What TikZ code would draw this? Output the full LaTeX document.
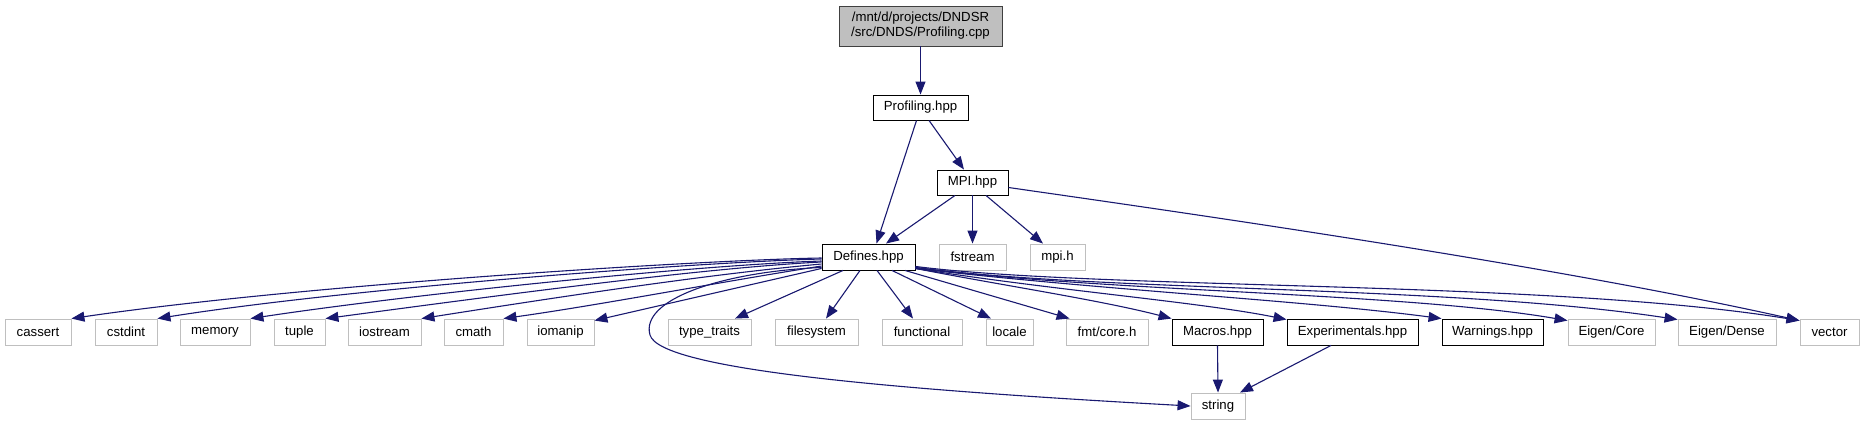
\documentclass[tikz,border=0pt]{standalone}
\usepackage{fontspec}
\setmainfont{Liberation Sans}
\usetikzlibrary{arrows.meta,calc}
\definecolor{edgeblue}{HTML}{191970}
\definecolor{lgray}{HTML}{BFBFBF}
\definecolor{dgray}{HTML}{404040}
\begin{document}
\begin{tikzpicture}[x=1pt,y=-1pt,
  box/.style={draw=black,fill=white,line width=0.9pt,inner sep=0pt,minimum height=26pt,font=\fontsize{13.2}{15}\selectfont},
  ext/.style={box,draw=lgray},
  root/.style={box,fill=lgray,draw=dgray,align=center},
  dep/.style={draw=edgeblue,line width=1.1pt,-{Triangle[length=13pt,width=10pt]}}]
\useasboundingbox (0,0) rectangle (1865,425);
% nodes
\node[root,minimum width=163pt,minimum height=40pt] (cpp) at (920.5,26) {/mnt/d/projects/DNDSR\\/src/DNDS/Profiling.cpp};
\node[box,minimum width=95pt,minimum height=25pt] (profh) at (920.5,107.5) {Profiling.hpp};
\node[box,minimum width=71pt,minimum height=25pt] (mpi) at (972.5,182.5) {MPI.hpp};
\node[box,minimum width=93pt] (defines) at (868.5,257) {Defines.hpp};
\node[ext,minimum width=67pt] (fstream) at (972.5,257) {fstream};
\node[ext,minimum width=55pt] (mpih) at (1057.5,257) {mpi.h};
\node[ext,minimum width=66pt] (cassert) at (38,332) {cassert};
\node[ext,minimum width=62pt] (cstdint) at (126,332) {cstdint};
\node[ext,minimum width=70pt] (memory) at (215,332) {memory};
\node[ext,minimum width=51pt] (tuple) at (299.5,332) {tuple};
\node[ext,minimum width=73pt] (iostream) at (384.5,332) {iostream};
\node[ext,minimum width=59pt] (cmath) at (473.5,332) {cmath};
\node[ext,minimum width=67pt] (iomanip) at (560.5,332) {iomanip};
\node[ext,minimum width=83pt] (typetraits) at (709.5,332) {type\_traits};
\node[ext,minimum width=83pt] (filesystem) at (816.5,332) {filesystem};
\node[ext,minimum width=80pt] (functional) at (922,332) {functional};
\node[ext,minimum width=47pt] (locale) at (1009.5,332) {locale};
\node[ext,minimum width=82pt] (fmtcore) at (1107,332) {fmt/core.h};
\node[box,minimum width=91pt] (macros) at (1217.5,332) {Macros.hpp};
\node[box,minimum width=131pt] (experimentals) at (1352.5,332) {Experimentals.hpp};
\node[box,minimum width=101pt] (warnings) at (1492.5,332) {Warnings.hpp};
\node[ext,minimum width=87pt] (eigencore) at (1611.5,332) {Eigen/Core};
\node[ext,minimum width=98pt] (eigendense) at (1727,332) {Eigen/Dense};
\node[ext,minimum width=59pt] (vector) at (1829.5,332) {vector};
\node[ext,minimum width=54pt] (string) at (1218,406) {string};
% top edges
\draw[dep] (cpp.south) -- (profh.north);
\draw[dep] ($(profh.south)+(-4,0)$) -- ($(defines.north)+(8,0)$);
\draw[dep] ($(profh.south)+(8.5,0)$) -- ($(mpi.north)+(-8.5,0)$);
\draw[dep] ($(mpi.south)+(-17.5,0)$) -- ($(defines.north)+(17.5,0)$);
\draw[dep] (mpi.south) -- (fstream.north);
\draw[dep] ($(mpi.south)+(13.5,0)$) -- ($(mpih.north)+(-14.5,0)$);
\draw[dep] ($(mpi.east)+(0,5)$) .. controls (1200,215) and (1550,265) .. ($(vector.north west)+(0,2)$);
% left fan
\draw[dep] ($(defines.west)+(0,1)$) .. controls (700,260) and (300,285) .. (cassert.north east);
\draw[dep] ($(defines.west)+(0,2)$) .. controls (700,262) and (350,288) .. (cstdint.north east);
\draw[dep] ($(defines.west)+(0,4)$) .. controls (700,265) and (420,293) .. (memory.north east);
\draw[dep] ($(defines.west)+(0,5)$) .. controls (700,268) and (480,298) .. (tuple.north east);
\draw[dep] ($(defines.west)+(0,7)$) .. controls (700,275) and (540,300) .. (iostream.north east);
\draw[dep] ($(defines.west)+(0,9)$) .. controls (720,282) and (600,305) .. (cmath.north east);
\draw[dep] ($(defines.south west)+(0,-2)$) -- ($(iomanip.north east)+(0,2)$);
\draw[dep] ($(defines.south west)+(0,-3)$) .. controls (720,272) and (640,300) .. (650,335) .. controls (660,370) and (900,390) .. (string.west);
% down fan
\draw[dep] ($(defines.south)+(-25.5,0)$) -- ($(typetraits.north)+(25.5,0)$);
\draw[dep] ($(defines.south)+(-8.5,0)$) -- ($(filesystem.north)+(9.5,0)$);
\draw[dep] ($(defines.south)+(8.5,0)$) -- ($(functional.north)+(-9,0)$);
\draw[dep] ($(defines.south)+(23.5,0)$) -- ($(locale.north)+(-18.5,0)$);
\draw[dep] ($(defines.south)+(36.5,0)$) -- ($(fmtcore.north west)+(4,0)$);
% right fan
\draw[dep] ($(defines.south east)+(0,-2)$) .. controls (1000,285) and (1100,300) .. (macros.north west);
\draw[dep] ($(defines.south east)+(0,-2)$) .. controls (1050,290) and (1200,302) .. ($(experimentals.north west)+(0,1)$);
\draw[dep] ($(defines.south east)+(0,-2)$) .. controls (1100,290) and (1300,300) .. (warnings.north west);
\draw[dep] ($(defines.south east)+(0,-3)$) .. controls (1100,292) and (1400,292) .. ($(eigencore.north west)+(0,2)$);
\draw[dep] ($(defines.south east)+(0,-3)$) .. controls (1100,292) and (1450,285) .. ($(eigendense.north west)+(0,1)$);
\draw[dep] ($(defines.south east)+(0,-4)$) .. controls (1100,290) and (1550,280) .. ($(vector.north west)+(0,2)$);
% to string
\draw[dep] (macros.south) -- (string.north);
\draw[dep] ($(experimentals.south)+(-21.5,0)$) -- ($(string.north)+(22,0)$);
\end{tikzpicture}
\end{document}
